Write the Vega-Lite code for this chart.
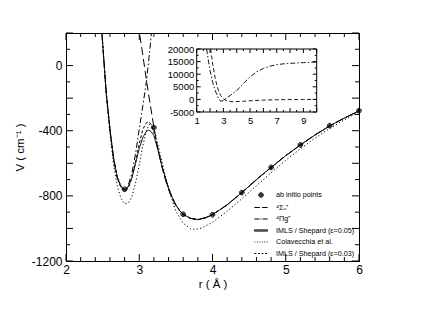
{
  "$schema": "https://vega.github.io/schema/vega-lite/v6.json",
  "width": 293,
  "height": 228,
  "autosize": {"type": "none"},
  "padding": {"left": 66, "top": 33, "right": 64, "bottom": 66},
  "background": "white",
  "config": {
    "view": {"stroke": "black", "strokeWidth": 1},
    "font": "Liberation Sans",
    "axis": {
      "grid": false,
      "domainColor": "black",
      "tickColor": "black",
      "labelColor": "black",
      "titleColor": "black",
      "labelFont": "Liberation Sans",
      "titleFont": "Liberation Sans",
      "titleFontWeight": "normal",
      "labelFlush": false,
      "labelOverlap": false,
      "labelBound": false,
      "title": null
    },
    "legend": {
      "orient": "bottom-right",
      "offset": 4,
      "padding": 0,
      "labelFont": "Liberation Sans",
      "labelFontSize": 7.2,
      "labelColor": "black",
      "symbolSize": 121,
      "symbolStrokeWidth": 1,
      "symbolStrokeColor": "black",
      "symbolOpacity": 1,
      "rowPadding": 1.5,
      "labelOffset": 9,
      "labelLimit": 200
    }
  },
  "datasets": {
    "main": [
      {"series": "IMLS / Shepard (ε=0.05)", "r": 2.46, "V": 400},
      {"series": "IMLS / Shepard (ε=0.05)", "r": 2.49, "V": 200},
      {"series": "IMLS / Shepard (ε=0.05)", "r": 2.55, "V": -170},
      {"series": "IMLS / Shepard (ε=0.05)", "r": 2.6, "V": -390},
      {"series": "IMLS / Shepard (ε=0.05)", "r": 2.65, "V": -570},
      {"series": "IMLS / Shepard (ε=0.05)", "r": 2.7, "V": -685},
      {"series": "IMLS / Shepard (ε=0.05)", "r": 2.75, "V": -740},
      {"series": "IMLS / Shepard (ε=0.05)", "r": 2.8, "V": -762},
      {"series": "IMLS / Shepard (ε=0.05)", "r": 2.85, "V": -745},
      {"series": "IMLS / Shepard (ε=0.05)", "r": 2.9, "V": -690},
      {"series": "IMLS / Shepard (ε=0.05)", "r": 2.95, "V": -600},
      {"series": "IMLS / Shepard (ε=0.05)", "r": 3.0, "V": -510},
      {"series": "IMLS / Shepard (ε=0.05)", "r": 3.05, "V": -440},
      {"series": "IMLS / Shepard (ε=0.05)", "r": 3.1, "V": -402},
      {"series": "IMLS / Shepard (ε=0.05)", "r": 3.13, "V": -396},
      {"series": "IMLS / Shepard (ε=0.05)", "r": 3.16, "V": -405},
      {"series": "IMLS / Shepard (ε=0.05)", "r": 3.2, "V": -430},
      {"series": "IMLS / Shepard (ε=0.05)", "r": 3.25, "V": -510},
      {"series": "IMLS / Shepard (ε=0.05)", "r": 3.3, "V": -600},
      {"series": "IMLS / Shepard (ε=0.05)", "r": 3.35, "V": -680},
      {"series": "IMLS / Shepard (ε=0.05)", "r": 3.4, "V": -750},
      {"series": "IMLS / Shepard (ε=0.05)", "r": 3.45, "V": -810},
      {"series": "IMLS / Shepard (ε=0.05)", "r": 3.5, "V": -855},
      {"series": "IMLS / Shepard (ε=0.05)", "r": 3.55, "V": -890},
      {"series": "IMLS / Shepard (ε=0.05)", "r": 3.6, "V": -913},
      {"series": "IMLS / Shepard (ε=0.05)", "r": 3.7, "V": -938},
      {"series": "IMLS / Shepard (ε=0.05)", "r": 3.8, "V": -945},
      {"series": "IMLS / Shepard (ε=0.05)", "r": 3.9, "V": -935},
      {"series": "IMLS / Shepard (ε=0.05)", "r": 4.0, "V": -915},
      {"series": "IMLS / Shepard (ε=0.05)", "r": 4.2, "V": -855},
      {"series": "IMLS / Shepard (ε=0.05)", "r": 4.4, "V": -780},
      {"series": "IMLS / Shepard (ε=0.05)", "r": 4.6, "V": -700},
      {"series": "IMLS / Shepard (ε=0.05)", "r": 4.8, "V": -625},
      {"series": "IMLS / Shepard (ε=0.05)", "r": 5.0, "V": -553},
      {"series": "IMLS / Shepard (ε=0.05)", "r": 5.2, "V": -487},
      {"series": "IMLS / Shepard (ε=0.05)", "r": 5.4, "V": -426},
      {"series": "IMLS / Shepard (ε=0.05)", "r": 5.6, "V": -370},
      {"series": "IMLS / Shepard (ε=0.05)", "r": 5.8, "V": -322},
      {"series": "IMLS / Shepard (ε=0.05)", "r": 6.0, "V": -278},

      {"series": "Colavecchia et al.", "r": 2.46, "V": 420},
      {"series": "Colavecchia et al.", "r": 2.49, "V": 200},
      {"series": "Colavecchia et al.", "r": 2.55, "V": -180},
      {"series": "Colavecchia et al.", "r": 2.6, "V": -420},
      {"series": "Colavecchia et al.", "r": 2.65, "V": -610},
      {"series": "Colavecchia et al.", "r": 2.7, "V": -740},
      {"series": "Colavecchia et al.", "r": 2.75, "V": -815},
      {"series": "Colavecchia et al.", "r": 2.8, "V": -848},
      {"series": "Colavecchia et al.", "r": 2.85, "V": -845},
      {"series": "Colavecchia et al.", "r": 2.9, "V": -805},
      {"series": "Colavecchia et al.", "r": 2.95, "V": -720},
      {"series": "Colavecchia et al.", "r": 3.0, "V": -610},
      {"series": "Colavecchia et al.", "r": 3.05, "V": -490},
      {"series": "Colavecchia et al.", "r": 3.1, "V": -395},
      {"series": "Colavecchia et al.", "r": 3.14, "V": -360},
      {"series": "Colavecchia et al.", "r": 3.18, "V": -370},
      {"series": "Colavecchia et al.", "r": 3.22, "V": -420},
      {"series": "Colavecchia et al.", "r": 3.3, "V": -570},
      {"series": "Colavecchia et al.", "r": 3.4, "V": -760},
      {"series": "Colavecchia et al.", "r": 3.5, "V": -895},
      {"series": "Colavecchia et al.", "r": 3.6, "V": -968},
      {"series": "Colavecchia et al.", "r": 3.7, "V": -1002},
      {"series": "Colavecchia et al.", "r": 3.76, "V": -1006},
      {"series": "Colavecchia et al.", "r": 3.85, "V": -998},
      {"series": "Colavecchia et al.", "r": 4.0, "V": -962},
      {"series": "Colavecchia et al.", "r": 4.2, "V": -895},
      {"series": "Colavecchia et al.", "r": 4.4, "V": -818},
      {"series": "Colavecchia et al.", "r": 4.6, "V": -738},
      {"series": "Colavecchia et al.", "r": 4.8, "V": -658},
      {"series": "Colavecchia et al.", "r": 5.0, "V": -582},
      {"series": "Colavecchia et al.", "r": 5.2, "V": -511},
      {"series": "Colavecchia et al.", "r": 5.4, "V": -446},
      {"series": "Colavecchia et al.", "r": 5.6, "V": -386},
      {"series": "Colavecchia et al.", "r": 5.8, "V": -333},
      {"series": "Colavecchia et al.", "r": 6.0, "V": -285},

      {"series": "IMLS / Shepard (ε=0.03)", "r": 2.46, "V": 400},
      {"series": "IMLS / Shepard (ε=0.03)", "r": 2.49, "V": 200},
      {"series": "IMLS / Shepard (ε=0.03)", "r": 2.55, "V": -175},
      {"series": "IMLS / Shepard (ε=0.03)", "r": 2.6, "V": -395},
      {"series": "IMLS / Shepard (ε=0.03)", "r": 2.65, "V": -578},
      {"series": "IMLS / Shepard (ε=0.03)", "r": 2.7, "V": -692},
      {"series": "IMLS / Shepard (ε=0.03)", "r": 2.75, "V": -750},
      {"series": "IMLS / Shepard (ε=0.03)", "r": 2.8, "V": -770},
      {"series": "IMLS / Shepard (ε=0.03)", "r": 2.85, "V": -752},
      {"series": "IMLS / Shepard (ε=0.03)", "r": 2.9, "V": -690},
      {"series": "IMLS / Shepard (ε=0.03)", "r": 2.95, "V": -590},
      {"series": "IMLS / Shepard (ε=0.03)", "r": 3.0, "V": -480},
      {"series": "IMLS / Shepard (ε=0.03)", "r": 3.05, "V": -390},
      {"series": "IMLS / Shepard (ε=0.03)", "r": 3.1, "V": -350},
      {"series": "IMLS / Shepard (ε=0.03)", "r": 3.13, "V": -345},
      {"series": "IMLS / Shepard (ε=0.03)", "r": 3.16, "V": -360},
      {"series": "IMLS / Shepard (ε=0.03)", "r": 3.2, "V": -410},
      {"series": "IMLS / Shepard (ε=0.03)", "r": 3.25, "V": -500},
      {"series": "IMLS / Shepard (ε=0.03)", "r": 3.3, "V": -600},
      {"series": "IMLS / Shepard (ε=0.03)", "r": 3.35, "V": -685},
      {"series": "IMLS / Shepard (ε=0.03)", "r": 3.4, "V": -755},
      {"series": "IMLS / Shepard (ε=0.03)", "r": 3.5, "V": -858},
      {"series": "IMLS / Shepard (ε=0.03)", "r": 3.6, "V": -915},
      {"series": "IMLS / Shepard (ε=0.03)", "r": 3.7, "V": -940},
      {"series": "IMLS / Shepard (ε=0.03)", "r": 3.8, "V": -947},
      {"series": "IMLS / Shepard (ε=0.03)", "r": 3.9, "V": -937},
      {"series": "IMLS / Shepard (ε=0.03)", "r": 4.0, "V": -916},
      {"series": "IMLS / Shepard (ε=0.03)", "r": 4.2, "V": -856},
      {"series": "IMLS / Shepard (ε=0.03)", "r": 4.4, "V": -781},
      {"series": "IMLS / Shepard (ε=0.03)", "r": 4.6, "V": -701},
      {"series": "IMLS / Shepard (ε=0.03)", "r": 4.8, "V": -626},
      {"series": "IMLS / Shepard (ε=0.03)", "r": 5.0, "V": -554},
      {"series": "IMLS / Shepard (ε=0.03)", "r": 5.2, "V": -488},
      {"series": "IMLS / Shepard (ε=0.03)", "r": 5.4, "V": -427},
      {"series": "IMLS / Shepard (ε=0.03)", "r": 5.6, "V": -371},
      {"series": "IMLS / Shepard (ε=0.03)", "r": 5.8, "V": -323},
      {"series": "IMLS / Shepard (ε=0.03)", "r": 6.0, "V": -279},

      {"series": "⁴Σᵤ⁺", "r": 2.95, "V": 480},
      {"series": "⁴Σᵤ⁺", "r": 3.0, "V": 210},
      {"series": "⁴Σᵤ⁺", "r": 3.05, "V": 60},
      {"series": "⁴Σᵤ⁺", "r": 3.1, "V": -95},
      {"series": "⁴Σᵤ⁺", "r": 3.15, "V": -240},
      {"series": "⁴Σᵤ⁺", "r": 3.2, "V": -380},
      {"series": "⁴Σᵤ⁺", "r": 3.25, "V": -500},
      {"series": "⁴Σᵤ⁺", "r": 3.3, "V": -605},
      {"series": "⁴Σᵤ⁺", "r": 3.35, "V": -690},
      {"series": "⁴Σᵤ⁺", "r": 3.4, "V": -760},
      {"series": "⁴Σᵤ⁺", "r": 3.45, "V": -818},
      {"series": "⁴Σᵤ⁺", "r": 3.5, "V": -860},
      {"series": "⁴Σᵤ⁺", "r": 3.55, "V": -892},
      {"series": "⁴Σᵤ⁺", "r": 3.6, "V": -913},
      {"series": "⁴Σᵤ⁺", "r": 3.7, "V": -938},
      {"series": "⁴Σᵤ⁺", "r": 3.8, "V": -945},
      {"series": "⁴Σᵤ⁺", "r": 3.9, "V": -935},
      {"series": "⁴Σᵤ⁺", "r": 4.0, "V": -915},
      {"series": "⁴Σᵤ⁺", "r": 4.2, "V": -855},
      {"series": "⁴Σᵤ⁺", "r": 4.4, "V": -780},
      {"series": "⁴Σᵤ⁺", "r": 4.6, "V": -700},
      {"series": "⁴Σᵤ⁺", "r": 4.8, "V": -625},
      {"series": "⁴Σᵤ⁺", "r": 5.0, "V": -553},
      {"series": "⁴Σᵤ⁺", "r": 5.2, "V": -487},
      {"series": "⁴Σᵤ⁺", "r": 5.4, "V": -426},
      {"series": "⁴Σᵤ⁺", "r": 5.6, "V": -370},
      {"series": "⁴Σᵤ⁺", "r": 5.8, "V": -322},
      {"series": "⁴Σᵤ⁺", "r": 6.0, "V": -278},

      {"series": "⁴Πg⁺", "r": 2.46, "V": 400},
      {"series": "⁴Πg⁺", "r": 2.49, "V": 200},
      {"series": "⁴Πg⁺", "r": 2.55, "V": -170},
      {"series": "⁴Πg⁺", "r": 2.6, "V": -390},
      {"series": "⁴Πg⁺", "r": 2.65, "V": -570},
      {"series": "⁴Πg⁺", "r": 2.7, "V": -685},
      {"series": "⁴Πg⁺", "r": 2.75, "V": -742},
      {"series": "⁴Πg⁺", "r": 2.8, "V": -765},
      {"series": "⁴Πg⁺", "r": 2.85, "V": -735},
      {"series": "⁴Πg⁺", "r": 2.9, "V": -660},
      {"series": "⁴Πg⁺", "r": 2.95, "V": -540},
      {"series": "⁴Πg⁺", "r": 3.0, "V": -390},
      {"series": "⁴Πg⁺", "r": 3.05, "V": -245},
      {"series": "⁴Πg⁺", "r": 3.1, "V": -90},
      {"series": "⁴Πg⁺", "r": 3.15, "V": 120},
      {"series": "⁴Πg⁺", "r": 3.2, "V": 380}
    ],
    "pts": [
      {"series": "ab initio points", "r": 2.8, "V": -760},
      {"series": "ab initio points", "r": 3.2, "V": -381},
      {"series": "ab initio points", "r": 3.6, "V": -913},
      {"series": "ab initio points", "r": 4.0, "V": -916},
      {"series": "ab initio points", "r": 4.4, "V": -780},
      {"series": "ab initio points", "r": 4.8, "V": -625},
      {"series": "ab initio points", "r": 5.2, "V": -487},
      {"series": "ab initio points", "r": 5.6, "V": -369},
      {"series": "ab initio points", "r": 6.0, "V": -277}
    ],
    "inset": [
      {"series": "⁴Πg⁺", "r": 1.75, "V": 20000},
      {"series": "⁴Πg⁺", "r": 1.9, "V": 14500},
      {"series": "⁴Πg⁺", "r": 2.0, "V": 11500},
      {"series": "⁴Πg⁺", "r": 2.2, "V": 6800},
      {"series": "⁴Πg⁺", "r": 2.4, "V": 3300},
      {"series": "⁴Πg⁺", "r": 2.6, "V": 800},
      {"series": "⁴Πg⁺", "r": 2.8, "V": -765},
      {"series": "⁴Πg⁺", "r": 3.0, "V": -390},
      {"series": "⁴Πg⁺", "r": 3.2, "V": 380},
      {"series": "⁴Πg⁺", "r": 3.5, "V": 1500},
      {"series": "⁴Πg⁺", "r": 4.0, "V": 3500},
      {"series": "⁴Πg⁺", "r": 4.5, "V": 6300},
      {"series": "⁴Πg⁺", "r": 5.0, "V": 8900},
      {"series": "⁴Πg⁺", "r": 5.5, "V": 10900},
      {"series": "⁴Πg⁺", "r": 6.0, "V": 12300},
      {"series": "⁴Πg⁺", "r": 6.5, "V": 13200},
      {"series": "⁴Πg⁺", "r": 7.0, "V": 13800},
      {"series": "⁴Πg⁺", "r": 7.5, "V": 14100},
      {"series": "⁴Πg⁺", "r": 8.0, "V": 14300},
      {"series": "⁴Πg⁺", "r": 9.0, "V": 14600},
      {"series": "⁴Πg⁺", "r": 10.0, "V": 14800},
      {"series": "⁴Σᵤ⁺", "r": 2.05, "V": 20000},
      {"series": "⁴Σᵤ⁺", "r": 2.2, "V": 14000},
      {"series": "⁴Σᵤ⁺", "r": 2.4, "V": 8000},
      {"series": "⁴Σᵤ⁺", "r": 2.6, "V": 4000},
      {"series": "⁴Σᵤ⁺", "r": 2.8, "V": 1500},
      {"series": "⁴Σᵤ⁺", "r": 3.0, "V": 210},
      {"series": "⁴Σᵤ⁺", "r": 3.2, "V": -380},
      {"series": "⁴Σᵤ⁺", "r": 3.5, "V": -860},
      {"series": "⁴Σᵤ⁺", "r": 3.8, "V": -946},
      {"series": "⁴Σᵤ⁺", "r": 4.5, "V": -740},
      {"series": "⁴Σᵤ⁺", "r": 5.0, "V": -553},
      {"series": "⁴Σᵤ⁺", "r": 6.0, "V": -278},
      {"series": "⁴Σᵤ⁺", "r": 7.0, "V": -140},
      {"series": "⁴Σᵤ⁺", "r": 8.0, "V": -70},
      {"series": "⁴Σᵤ⁺", "r": 9.0, "V": -35},
      {"series": "⁴Σᵤ⁺", "r": 10.0, "V": -20}
    ],
    "mxMaj": [{"v": 2}, {"v": 3}, {"v": 4}, {"v": 5}, {"v": 6}],
    "mxMin": [{"v": 2.2}, {"v": 2.4}, {"v": 2.6}, {"v": 2.8}, {"v": 3.2}, {"v": 3.4}, {"v": 3.6}, {"v": 3.8}, {"v": 4.2}, {"v": 4.4}, {"v": 4.6}, {"v": 4.8}, {"v": 5.2}, {"v": 5.4}, {"v": 5.6}, {"v": 5.8}],
    "myMaj": [{"v": -1200}, {"v": -1000}, {"v": -800}, {"v": -600}, {"v": -400}, {"v": -200}, {"v": 0}, {"v": 200}],
    "myMin": [{"v": -1100}, {"v": -900}, {"v": -700}, {"v": -500}, {"v": -300}, {"v": -100}, {"v": 100}],
    "ixMaj": [{"v": 1}, {"v": 2}, {"v": 3}, {"v": 4}, {"v": 5}, {"v": 6}, {"v": 7}, {"v": 8}, {"v": 9}, {"v": 10}],
    "ixMin": [{"v": 1.5}, {"v": 2.5}, {"v": 3.5}, {"v": 4.5}, {"v": 5.5}, {"v": 6.5}, {"v": 7.5}, {"v": 8.5}, {"v": 9.5}],
    "iyMaj": [{"v": -5000}, {"v": 0}, {"v": 5000}, {"v": 10000}, {"v": 15000}, {"v": 20000}],
    "iyMin": [{"v": -2500}, {"v": 2500}, {"v": 7500}, {"v": 12500}, {"v": 17500}]
  },
  "layer": [
    {
      "layer": [
        {
          "data": {"name": "main"},
          "mark": {"type": "line", "clip": true, "color": "black"},
          "encoding": {
            "x": {
              "field": "r", "type": "quantitative", "title": "r ( Å )",
              "scale": {"domain": [2, 6], "nice": false, "zero": false},
              "axis": {
                "orient": "bottom", "values": [2, 3, 4, 5, 6], "ticks": false,
                "labelExpr": "'' + datum.value", "labelFontSize": 12, "labelPadding": 3,
                "labelOverlap": false, "labelFlush": false, "labelBound": false,
                "title": "r ( Å )", "titleFontSize": 11.5, "titlePadding": 3
              }
            },
            "y": {
              "field": "V", "type": "quantitative", "title": "V ( cm⁻¹ )",
              "scale": {"domain": [-1200, 200], "nice": false, "zero": false},
              "axis": {
                "orient": "left", "values": [-1200, -1000, -800, -600, -400, -200, 0, 200], "ticks": false,
                "labelExpr": "'' + datum.value", "labelFontSize": 12, "labelPadding": 4,
                "labelOverlap": false, "labelFlush": false, "labelBound": false,
                "title": "V ( cm⁻¹ )", "titleFontSize": 11.5, "titlePadding": 6
              }
            },
            "strokeDash": {
              "field": "series", "type": "nominal",
              "scale": {
                "domain": ["⁴Σᵤ⁺", "⁴Πg⁺", "IMLS / Shepard (ε=0.05)", "Colavecchia et al.", "IMLS / Shepard (ε=0.03)"],
                "range": [[8, 4], [6, 2.5, 1.5, 2.5], [1, 0], [1.2, 2.3], [3, 2]]
              },
              "legend": null
            },
            "strokeWidth": {
              "field": "series", "type": "nominal",
              "scale": {
                "domain": ["⁴Σᵤ⁺", "⁴Πg⁺", "IMLS / Shepard (ε=0.05)", "Colavecchia et al.", "IMLS / Shepard (ε=0.03)"],
                "range": [1, 1, 2, 1.3, 1]
              },
              "legend": null
            }
          }
        },
        {
          "data": {"name": "pts"},
          "mark": {"type": "point", "filled": false, "color": "black", "strokeWidth": 1, "opacity": 1, "size": 121},
          "encoding": {
            "x": {"field": "r", "type": "quantitative", "title": "r ( Å )", "scale": {"domain": [2, 6], "nice": false, "zero": false}},
            "y": {"field": "V", "type": "quantitative", "title": "V ( cm⁻¹ )", "scale": {"domain": [-1200, 200], "nice": false, "zero": false}},
            "shape": {
              "field": "series", "type": "nominal",
              "scale": {
                "domain": ["ab initio points", "⁴Σᵤ⁺", "⁴Πg⁺", "IMLS / Shepard (ε=0.05)", "Colavecchia et al.", "IMLS / Shepard (ε=0.03)"],
                "range": [
                  "M-0.42,0A0.42,0.42 0 1,0 0.42,0A0.42,0.42 0 1,0 -0.42,0M-0.25,0A0.25,0.25 0 1,0 0.25,0A0.25,0.25 0 1,0 -0.25,0M-0.09,0A0.09,0.09 0 1,0 0.09,0A0.09,0.09 0 1,0 -0.09,0",
                  "M-1.2,0H-0.2M0.2,0H1.2",
                  "M-1.2,0H-0.3M-0.1,0H0.1M0.3,0H1.2",
                  "M-1.2,-0.1H1.2V0.1H-1.2Z",
                  "M-1.2,0H-1.05M-0.75,0H-0.6M-0.3,0H-0.15M0.15,0H0.3M0.6,0H0.75M1.05,0H1.2",
                  "M-1.2,0H-0.85M-0.55,0H-0.2M0.1,0H0.45M0.75,0H1.1"
                ]
              },
              "legend": {"title": null}
            }
          }
        },
        {
          "data": {"name": "mxMaj"},
          "mark": {"type": "rule", "color": "black", "strokeWidth": 1},
          "encoding": {
            "x": {"field": "v", "type": "quantitative", "title": "r ( Å )", "scale": {"domain": [2, 6], "nice": false, "zero": false}},
            "y": {"datum": -1200, "type": "quantitative", "title": "V ( cm⁻¹ )", "scale": {"domain": [-1200, 200], "nice": false, "zero": false}},
            "y2": {"datum": -1157}
          }
        },
        {
          "data": {"name": "mxMaj"},
          "mark": {"type": "rule", "color": "black", "strokeWidth": 1},
          "encoding": {
            "x": {"field": "v", "type": "quantitative", "title": "r ( Å )", "scale": {"domain": [2, 6], "nice": false, "zero": false}},
            "y": {"datum": 200, "type": "quantitative", "title": "V ( cm⁻¹ )", "scale": {"domain": [-1200, 200], "nice": false, "zero": false}},
            "y2": {"datum": 157}
          }
        },
        {
          "data": {"name": "mxMin"},
          "mark": {"type": "rule", "color": "black", "strokeWidth": 1},
          "encoding": {
            "x": {"field": "v", "type": "quantitative", "title": "r ( Å )", "scale": {"domain": [2, 6], "nice": false, "zero": false}},
            "y": {"datum": -1200, "type": "quantitative", "title": "V ( cm⁻¹ )", "scale": {"domain": [-1200, 200], "nice": false, "zero": false}},
            "y2": {"datum": -1176}
          }
        },
        {
          "data": {"name": "mxMin"},
          "mark": {"type": "rule", "color": "black", "strokeWidth": 1},
          "encoding": {
            "x": {"field": "v", "type": "quantitative", "title": "r ( Å )", "scale": {"domain": [2, 6], "nice": false, "zero": false}},
            "y": {"datum": 200, "type": "quantitative", "title": "V ( cm⁻¹ )", "scale": {"domain": [-1200, 200], "nice": false, "zero": false}},
            "y2": {"datum": 176}
          }
        },
        {
          "data": {"name": "myMaj"},
          "mark": {"type": "rule", "color": "black", "strokeWidth": 1},
          "encoding": {
            "y": {"field": "v", "type": "quantitative", "title": "V ( cm⁻¹ )", "scale": {"domain": [-1200, 200], "nice": false, "zero": false}},
            "x": {"datum": 2, "type": "quantitative", "title": "r ( Å )", "scale": {"domain": [2, 6], "nice": false, "zero": false}},
            "x2": {"datum": 2.0956}
          }
        },
        {
          "data": {"name": "myMaj"},
          "mark": {"type": "rule", "color": "black", "strokeWidth": 1},
          "encoding": {
            "y": {"field": "v", "type": "quantitative", "title": "V ( cm⁻¹ )", "scale": {"domain": [-1200, 200], "nice": false, "zero": false}},
            "x": {"datum": 6, "type": "quantitative", "title": "r ( Å )", "scale": {"domain": [2, 6], "nice": false, "zero": false}},
            "x2": {"datum": 5.9044}
          }
        },
        {
          "data": {"name": "myMin"},
          "mark": {"type": "rule", "color": "black", "strokeWidth": 1},
          "encoding": {
            "y": {"field": "v", "type": "quantitative", "title": "V ( cm⁻¹ )", "scale": {"domain": [-1200, 200], "nice": false, "zero": false}},
            "x": {"datum": 2, "type": "quantitative", "title": "r ( Å )", "scale": {"domain": [2, 6], "nice": false, "zero": false}},
            "x2": {"datum": 2.0546}
          }
        },
        {
          "data": {"name": "myMin"},
          "mark": {"type": "rule", "color": "black", "strokeWidth": 1},
          "encoding": {
            "y": {"field": "v", "type": "quantitative", "title": "V ( cm⁻¹ )", "scale": {"domain": [-1200, 200], "nice": false, "zero": false}},
            "x": {"datum": 6, "type": "quantitative", "title": "r ( Å )", "scale": {"domain": [2, 6], "nice": false, "zero": false}},
            "x2": {"datum": 5.9454}
          }
        }
      ]
    },
    {
      "layer": [
        {
          "data": {"values": [{}]},
          "mark": {"type": "rect", "fill": "white", "stroke": "black", "strokeWidth": 1},
          "encoding": {
            "x": {"datum": 1, "type": "quantitative", "scale": {"domain": [1, 10], "range": [130.7, 250.7], "nice": false, "zero": false}},
            "x2": {"datum": 10},
            "y": {"datum": -5000, "type": "quantitative", "scale": {"domain": [-5000, 20000], "range": [79, 16], "nice": false, "zero": false}},
            "y2": {"datum": 20000}
          }
        },
        {
          "data": {"name": "inset"},
          "mark": {"type": "line", "color": "black", "strokeWidth": 0.9},
          "encoding": {
            "x": {
              "field": "r", "type": "quantitative",
              "scale": {"domain": [1, 10], "range": [130.7, 250.7], "nice": false, "zero": false},
              "axis": {"orient": "bottom", "offset": -149, "values": [1, 2, 3, 4, 5, 6, 7, 8, 9, 10], "ticks": false, "domain": false,
                "labelExpr": "'' + datum.value", "labelFontSize": 9.5, "labelPadding": 3,
                "labelOverlap": false, "labelFlush": false, "labelBound": false, "title": null}
            },
            "y": {
              "field": "V", "type": "quantitative",
              "scale": {"domain": [-5000, 20000], "range": [79, 16], "nice": false, "zero": false},
              "axis": {"orient": "left", "offset": -130.7, "values": [-5000, 0, 5000, 10000, 15000, 20000], "ticks": false, "domain": false,
                "labelExpr": "'' + datum.value", "labelFontSize": 9.5, "labelPadding": 3,
                "labelOverlap": false, "labelFlush": false, "labelBound": false, "title": null}
            },
            "strokeDash": {
              "field": "series", "type": "nominal",
              "scale": {"domain": ["⁴Σᵤ⁺", "⁴Πg⁺"], "range": [[4, 2.5], [5, 2, 1.5, 2]]},
              "legend": null
            }
          }
        },
        {
          "data": {"name": "ixMaj"},
          "mark": {"type": "rule", "color": "black", "strokeWidth": 1},
          "encoding": {
            "x": {"field": "v", "type": "quantitative", "scale": {"domain": [1, 10], "range": [130.7, 250.7], "nice": false, "zero": false}},
            "y": {"datum": -5000, "type": "quantitative", "scale": {"domain": [-5000, 20000], "range": [79, 16], "nice": false, "zero": false}},
            "y2": {"datum": -3413}
          }
        },
        {
          "data": {"name": "ixMaj"},
          "mark": {"type": "rule", "color": "black", "strokeWidth": 1},
          "encoding": {
            "x": {"field": "v", "type": "quantitative", "scale": {"domain": [1, 10], "range": [130.7, 250.7], "nice": false, "zero": false}},
            "y": {"datum": 20000, "type": "quantitative", "scale": {"domain": [-5000, 20000], "range": [79, 16], "nice": false, "zero": false}},
            "y2": {"datum": 18413}
          }
        },
        {
          "data": {"name": "ixMin"},
          "mark": {"type": "rule", "color": "black", "strokeWidth": 1},
          "encoding": {
            "x": {"field": "v", "type": "quantitative", "scale": {"domain": [1, 10], "range": [130.7, 250.7], "nice": false, "zero": false}},
            "y": {"datum": -5000, "type": "quantitative", "scale": {"domain": [-5000, 20000], "range": [79, 16], "nice": false, "zero": false}},
            "y2": {"datum": -4206}
          }
        },
        {
          "data": {"name": "ixMin"},
          "mark": {"type": "rule", "color": "black", "strokeWidth": 1},
          "encoding": {
            "x": {"field": "v", "type": "quantitative", "scale": {"domain": [1, 10], "range": [130.7, 250.7], "nice": false, "zero": false}},
            "y": {"datum": 20000, "type": "quantitative", "scale": {"domain": [-5000, 20000], "range": [79, 16], "nice": false, "zero": false}},
            "y2": {"datum": 19206}
          }
        },
        {
          "data": {"name": "iyMaj"},
          "mark": {"type": "rule", "color": "black", "strokeWidth": 1},
          "encoding": {
            "y": {"field": "v", "type": "quantitative", "scale": {"domain": [-5000, 20000], "range": [79, 16], "nice": false, "zero": false}},
            "x": {"datum": 1, "type": "quantitative", "scale": {"domain": [1, 10], "range": [130.7, 250.7], "nice": false, "zero": false}},
            "x2": {"datum": 1.3}
          }
        },
        {
          "data": {"name": "iyMaj"},
          "mark": {"type": "rule", "color": "black", "strokeWidth": 1},
          "encoding": {
            "y": {"field": "v", "type": "quantitative", "scale": {"domain": [-5000, 20000], "range": [79, 16], "nice": false, "zero": false}},
            "x": {"datum": 10, "type": "quantitative", "scale": {"domain": [1, 10], "range": [130.7, 250.7], "nice": false, "zero": false}},
            "x2": {"datum": 9.7}
          }
        },
        {
          "data": {"name": "iyMin"},
          "mark": {"type": "rule", "color": "black", "strokeWidth": 1},
          "encoding": {
            "y": {"field": "v", "type": "quantitative", "scale": {"domain": [-5000, 20000], "range": [79, 16], "nice": false, "zero": false}},
            "x": {"datum": 1, "type": "quantitative", "scale": {"domain": [1, 10], "range": [130.7, 250.7], "nice": false, "zero": false}},
            "x2": {"datum": 1.15}
          }
        },
        {
          "data": {"name": "iyMin"},
          "mark": {"type": "rule", "color": "black", "strokeWidth": 1},
          "encoding": {
            "y": {"field": "v", "type": "quantitative", "scale": {"domain": [-5000, 20000], "range": [79, 16], "nice": false, "zero": false}},
            "x": {"datum": 10, "type": "quantitative", "scale": {"domain": [1, 10], "range": [130.7, 250.7], "nice": false, "zero": false}},
            "x2": {"datum": 9.85}
          }
        }
      ]
    }
  ],
  "resolve": {
    "scale": {"x": "independent", "y": "independent", "strokeDash": "independent"},
    "axis": {"x": "independent", "y": "independent"}
  }
}
